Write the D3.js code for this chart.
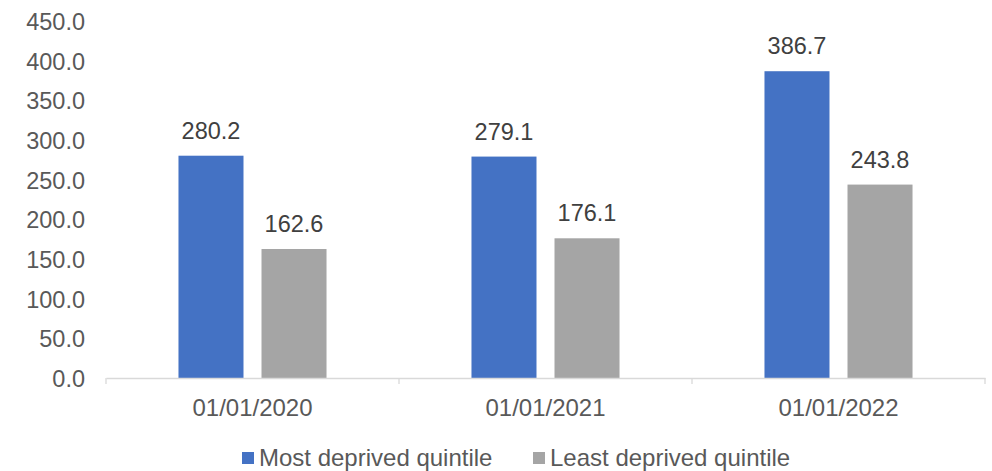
<!DOCTYPE html>
<html>
<head>
<meta charset="utf-8">
<script src="https://cdn.jsdelivr.net/npm/d3@7"></script>
<style>
  html, body { margin: 0; padding: 0; background: #ffffff; }
  svg { display: block; font-family: "Liberation Sans", Arial, sans-serif; }
</style>
</head>
<body>
<svg id="chart" width="992" height="471"></svg>
<script>
// Dates shown on the category axis
const categories = ["01/01/2020", "01/01/2021", "01/01/2022"];
// Series names and values
const seriesNames = ["Most deprived quintile", "Least deprived quintile"];
const mostDeprived = [280.2, 279.1, 386.7];
const leastDeprived = [162.6, 176.1, 243.8];
const seriesColors = ["#4472C4", "#A5A5A5"];
// Value-axis ticks
const yTicks = [0, 50, 100, 150, 200, 250, 300, 350, 400, 450];

const seriesValues = [mostDeprived, leastDeprived];
const svg = d3.select("#chart");
const fontSize = 23.5;
const bigFont = 24;

const x0 = d3.scaleBand().domain(categories).range([106, 985]).paddingInner(0).paddingOuter(0);
const x1 = d3.scaleBand().domain(seriesNames).range([0, x0.bandwidth()])
  .paddingInner(0.217).paddingOuter(0.873);
const y = d3.scaleLinear().domain([0, 450]).range([378, 21]);

// Value axis labels (no axis line, no gridlines)
const yAxis = svg.append("g").attr("transform", "translate(85,0)")
  .call(d3.axisLeft(y).tickValues(yTicks).tickFormat(d3.format(".1f")).tickSize(0).tickPadding(0));
yAxis.select(".domain").remove();
yAxis.selectAll("text")
  .attr("fill", "#595959").attr("font-size", fontSize)
  .attr("font-family", "Liberation Sans, Arial, sans-serif")
  .attr("dy", "0.36em");

// Bars
const groups = svg.append("g").selectAll("g")
  .data(categories).join("g")
  .attr("transform", d => `translate(${x0(d)},0)`);

groups.selectAll("rect")
  .data((d, i) => seriesNames.map((s, j) => ({ s, v: seriesValues[j][i], c: seriesColors[j] })))
  .join("rect")
  .attr("x", d => x1(d.s))
  .attr("width", x1.bandwidth())
  .attr("y", d => y(d.v))
  .attr("height", d => y(0) - y(d.v))
  .attr("fill", d => d.c);

// Value labels above bars
groups.selectAll("text.val")
  .data((d, i) => seriesNames.map((s, j) => ({ s, v: seriesValues[j][i] })))
  .join("text")
  .attr("class", "val")
  .attr("x", d => x1(d.s) + x1.bandwidth() / 2)
  .attr("y", d => y(d.v) - 17)
  .attr("text-anchor", "middle")
  .attr("fill", "#404040")
  .attr("font-size", fontSize)
  .text(d => d.v.toFixed(1));

// Category axis
const xAxis = svg.append("g").attr("transform", `translate(0,${y(0)})`)
  .call(d3.axisBottom(x0).tickSize(0).tickPadding(0));
xAxis.select(".domain").attr("stroke", "#D9D9D9").attr("stroke-width", 1.3);
xAxis.selectAll(".tick text")
  .attr("fill", "#595959").attr("font-size", bigFont)
  .attr("font-family", "Liberation Sans, Arial, sans-serif")
  .attr("y", 38).attr("dy", 0);

// Tick marks at category boundaries
const bounds = categories.map(c => x0(c)).concat([x0.range()[1]]);
xAxis.selectAll("line.bound")
  .data(bounds).join("line")
  .attr("class", "bound")
  .attr("x1", d => d).attr("x2", d => d)
  .attr("y1", 0).attr("y2", 6)
  .attr("stroke", "#D9D9D9").attr("stroke-width", 1.3);

// Legend
const legendItems = [
  { name: seriesNames[0], color: seriesColors[0], x: 242 },
  { name: seriesNames[1], color: seriesColors[1], x: 533 }
];
const legend = svg.append("g");
legendItems.forEach(item => {
  legend.append("rect")
    .attr("x", item.x).attr("y", 452)
    .attr("width", 12).attr("height", 12)
    .attr("fill", item.color);
  legend.append("text")
    .attr("x", item.x + 17).attr("y", 466)
    .attr("fill", "#595959").attr("font-size", bigFont)
    .text(item.name);
});
</script>
</body>
</html>
